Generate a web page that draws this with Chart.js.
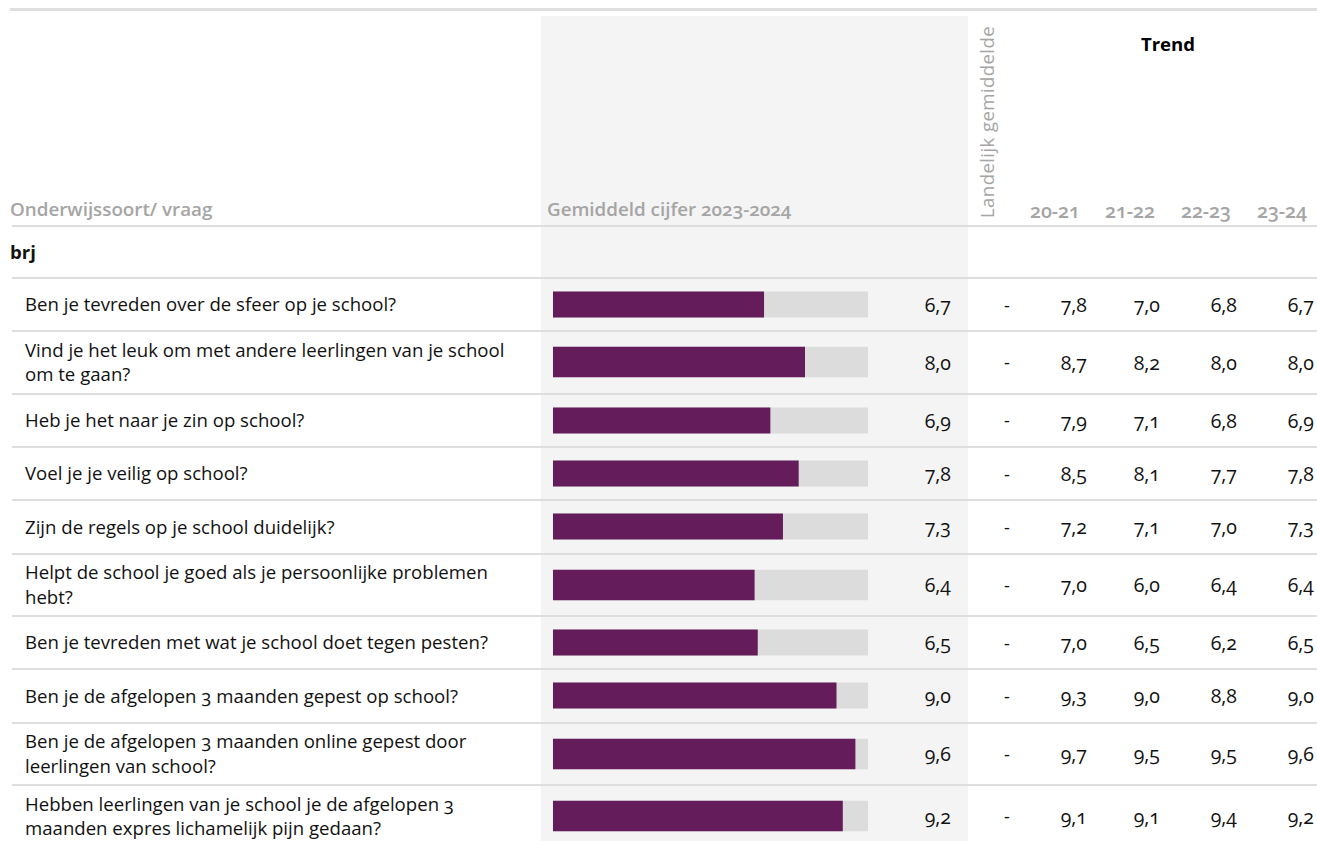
<!DOCTYPE html>
<html lang="nl">
<head>
<meta charset="utf-8">
<script src="https://cdn.jsdelivr.net/npm/chart.js@4.4.1/dist/chart.umd.min.js"></script>
<style>
  html, body { margin: 0; padding: 0; background: #fff; }
  body { width: 1317px; height: 841px; overflow: hidden; position: relative;
         font-family: "Open Sans", "Noto Sans", sans-serif; color: #111;
         font-feature-settings: "onum" 1; }
  .abs { position: absolute; }
  .hline { position: absolute; left: 12px; right: 0; height: 2px; background: #dedede; z-index: 5; }
  .panel { position: absolute; left: 541px; width: 427px; top: 16px; height: 900px; background: #f4f4f4; z-index: 0; }
  .hdr { position: absolute; color: #a5a5a5; font-weight: 600; font-size: 18.8px; line-height: 20px; white-space: nowrap; z-index: 2; }
  .q { position: absolute; left: 25px; width: 515px; display: flex; align-items: center;
       white-space: pre-line; font-size: 18.6px; line-height: 24.5px; z-index: 2; }
  .num { position: absolute; width: 80px; text-align: right; display: flex; align-items: center; justify-content: flex-end;
         font-size: 19.5px; z-index: 2; }
  .dash { position: absolute; width: 20px; text-align: center; display: flex; align-items: center; justify-content: center;
          font-size: 18px; z-index: 2; }
  canvas.bar { position: absolute; z-index: 1; }
</style>
</head>
<body>
<div class="panel"></div>
<script>
// ---- data ----
const QUESTIONS = [
  "Ben je tevreden over de sfeer op je school?",
  "Vind je het leuk om met andere leerlingen van je school\nom te gaan?",
  "Heb je het naar je zin op school?",
  "Voel je je veilig op school?",
  "Zijn de regels op je school duidelijk?",
  "Helpt de school je goed als je persoonlijke problemen\nhebt?",
  "Ben je tevreden met wat je school doet tegen pesten?",
  "Ben je de afgelopen 3 maanden gepest op school?",
  "Ben je de afgelopen 3 maanden online gepest door\nleerlingen van school?",
  "Hebben leerlingen van je school je de afgelopen 3\nmaanden expres lichamelijk pijn gedaan?"
];
const GROUP_LABEL = "brj";
const SCORE_2023_2024 = [6.7, 8.0, 6.9, 7.8, 7.3, 6.4, 6.5, 9.0, 9.6, 9.2];
const NATIONAL_AVERAGE = ["-", "-", "-", "-", "-", "-", "-", "-", "-", "-"];
const TREND_YEARS = ["20-21", "21-22", "22-23", "23-24"];
const TREND_20_21 = [7.8, 8.7, 7.9, 8.5, 7.2, 7.0, 7.0, 9.3, 9.7, 9.1];
const TREND_21_22 = [7.0, 8.2, 7.1, 8.1, 7.1, 6.0, 6.5, 9.0, 9.5, 9.1];
const TREND_22_23 = [6.8, 8.0, 6.8, 7.7, 7.0, 6.4, 6.2, 8.8, 9.5, 9.4];
const TREND_23_24 = [6.7, 8.0, 6.9, 7.8, 7.3, 6.4, 6.5, 9.0, 9.6, 9.2];
const SCALE_MIN = 0;
const SCALE_MAX = 10;
const HEADER_QUESTION = "Onderwijssoort/ vraag";
const HEADER_SCORE = "Gemiddeld cijfer 2023-2024";
const HEADER_NATIONAL = "Landelijk gemiddelde";
const HEADER_TREND = "Trend";

// ---- layout ----
(function () {
const PURPLE = "#651c5b";
const BAR_BG = "#dcdcdc";
const fmt = v => v.toFixed(1).replace(".", ",");
const body = document.body;
function el(cls, css, text) {
  const d = document.createElement("div");
  d.className = cls;
  Object.assign(d.style, css);
  if (text !== undefined) d.textContent = text;
  body.appendChild(d);
  return d;
}
function hline(y) { el("hline", { top: (y - 1) + "px" }); }

// top line
el("hline", { top: "8px", height: "3px", left: "10px" });

// header
el("hdr", { left: "10px", top: "199px" }, HEADER_QUESTION);
el("hdr", { left: "547px", top: "199px" }, HEADER_SCORE);
el("hdr", { left: "1168px", top: "34px", transform: "translateX(-50%)", color: "#000", fontWeight: "700", fontSize: "18.6px" }, HEADER_TREND);
el("hdr", { left: "987px", top: "218px", transformOrigin: "0 0", transform: "rotate(-90deg) translateY(-50%)", fontWeight: "500", fontSize: "18.6px", letterSpacing: "0.4px" }, HEADER_NATIONAL);
const TREND_HDR_RIGHT = [1080, 1155, 1231, 1307];
TREND_YEARS.forEach((t, k) => {
  el("hdr", { left: (TREND_HDR_RIGHT[k] - 80) + "px", width: "80px", textAlign: "right", top: "201px", fontSize: "19.5px" }, t);
});
hline(226);

// group row
el("abs", { left: "10px", top: "241px", fontWeight: "700", fontSize: "18.6px", lineHeight: "22px", zIndex: 2 }, GROUP_LABEL);
hline(278);

// question rows
const TREND_COLS = [TREND_20_21, TREND_21_22, TREND_22_23, TREND_23_24];
const TREND_RIGHT = [1087, 1160, 1237, 1314];
let rowTop = 278;
QUESTIONS.forEach((q, i) => {
  const lines = q.split("\n").length;
  const h = lines > 1 ? 62.4 : 53.3;
  const box = { top: rowTop + "px", height: h + "px" };
  el("q", box, q);
  el("num", Object.assign({ left: (951 - 80) + "px" }, box), fmt(SCORE_2023_2024[i]));
  el("dash", Object.assign({ left: (1007 - 10) + "px" }, box), NATIONAL_AVERAGE[i]);
  TREND_COLS.forEach((col, k) => {
    el("num", Object.assign({ left: (TREND_RIGHT[k] - 80) + "px" }, box), fmt(col[i]));
  });

  // bar chart for this row
  const c = document.createElement("canvas");
  c.className = "bar";
  const ch = Math.round(h);
  c.width = 315; c.height = ch;
  c.style.left = "553px"; c.style.top = Math.round(rowTop) + "px";
  c.style.width = "315px"; c.style.height = ch + "px";
  body.appendChild(c);
  new Chart(c, {
    type: "bar",
    data: {
      labels: [q],
      datasets: [
        { label: HEADER_SCORE, data: [SCORE_2023_2024[i]], backgroundColor: PURPLE, borderWidth: 0,
          grouped: false, barPercentage: 0.49, categoryPercentage: 1 },
        { label: "max", data: [SCALE_MAX], backgroundColor: BAR_BG, borderWidth: 0,
          grouped: false, barPercentage: 0.49, categoryPercentage: 1 }
      ]
    },
    options: {
      indexAxis: "y",
      responsive: false,
      maintainAspectRatio: false,
      animation: false,
      devicePixelRatio: 1,
      layout: { padding: 0 },
      scales: {
        x: { min: SCALE_MIN, max: SCALE_MAX, display: false },
        y: { display: false }
      },
      plugins: { legend: { display: false }, tooltip: { enabled: false } }
    }
  });

  rowTop += h;
  hline(rowTop);
});
})();
</script>
</body>
</html>
